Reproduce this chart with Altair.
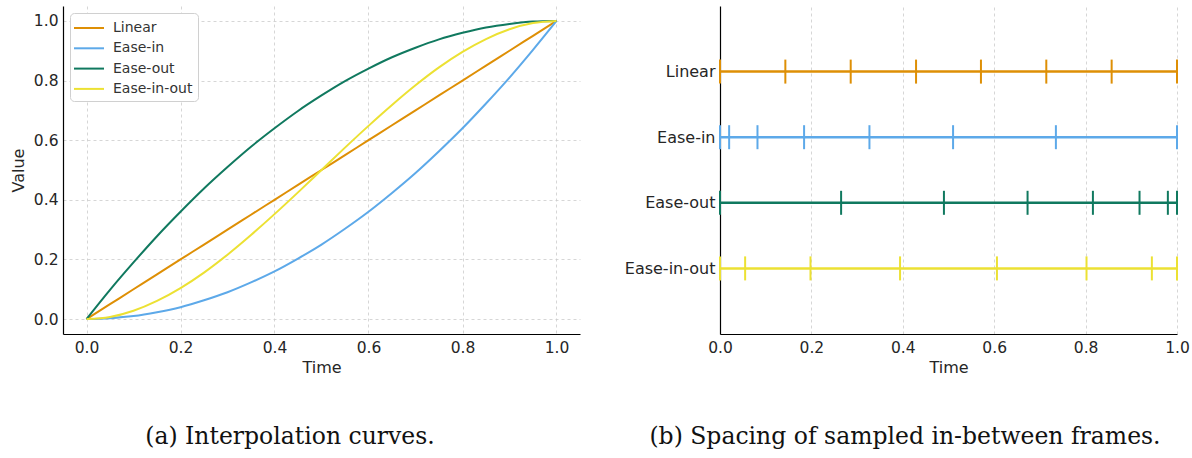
import altair as alt
import pandas as pd

# ---- data ----
T = [0.0, 0.05, 0.1, 0.15, 0.2, 0.25, 0.3, 0.35, 0.4, 0.45, 0.5,
     0.55, 0.6, 0.65, 0.7, 0.75, 0.8, 0.85, 0.9, 0.95, 1.0]
LINEAR = [0.0, 0.05, 0.1, 0.15, 0.2, 0.25, 0.3, 0.35, 0.4, 0.45, 0.5,
          0.55, 0.6, 0.65, 0.7, 0.75, 0.8, 0.85, 0.9, 0.95, 1.0]
EASE_IN = [0.0, 0.003, 0.01, 0.023, 0.04, 0.063, 0.09, 0.123, 0.16, 0.203, 0.25,
           0.303, 0.36, 0.423, 0.49, 0.563, 0.64, 0.723, 0.81, 0.903, 1.0]
EASE_OUT = [0.0, 0.098, 0.19, 0.278, 0.36, 0.438, 0.51, 0.578, 0.64, 0.698, 0.75,
            0.798, 0.84, 0.878, 0.91, 0.938, 0.96, 0.978, 0.99, 0.998, 1.0]
EASE_IN_OUT = [0.0, 0.007, 0.028, 0.061, 0.104, 0.156, 0.216, 0.282, 0.352, 0.425, 0.5,
               0.575, 0.648, 0.718, 0.784, 0.844, 0.896, 0.939, 0.972, 0.993, 1.0]

SERIES = ["Linear", "Ease-in", "Ease-out", "Ease-in-out"]
COLORS = ["#DE8F05", "#5DA9E9", "#10795F", "#ECE133"]

FRAMES_LINEAR = [0.0, 0.143, 0.286, 0.429, 0.571, 0.714, 0.857, 1.0]
FRAMES_EASE_IN = [0.0, 0.020, 0.082, 0.184, 0.327, 0.510, 0.735, 1.0]
FRAMES_EASE_OUT = [0.0, 0.265, 0.490, 0.673, 0.816, 0.918, 0.980, 1.0]
FRAMES_EASE_IN_OUT = [0.0, 0.055, 0.198, 0.394, 0.606, 0.802, 0.945, 1.0]

X_TICKS = [0.0, 0.2, 0.4, 0.6, 0.8, 1.0]
Y_TICKS = [0.0, 0.2, 0.4, 0.6, 0.8, 1.0]
CAPTIONS = ["(a) Interpolation curves.", "(b) Spacing of sampled in-between frames."]

# ---- tables ----
curve_rows = []
for name, vals in zip(SERIES, [LINEAR, EASE_IN, EASE_OUT, EASE_IN_OUT]):
    for t, v in zip(T, vals):
        curve_rows.append({"Time": t, "Value": v, "Series": name})
curves = pd.DataFrame(curve_rows)

frame_rows = []
for name, vals in zip(SERIES, [FRAMES_LINEAR, FRAMES_EASE_IN, FRAMES_EASE_OUT, FRAMES_EASE_IN_OUT]):
    for t in vals:
        frame_rows.append({"Time": t, "Series": name})
frames = pd.DataFrame(frame_rows)

color_scale = alt.Scale(domain=SERIES, range=COLORS)
SANS = "DejaVu Sans"
SERIF = "DejaVu Serif"

# ---- left panel ----
left_lines = alt.Chart(curves).mark_line(strokeWidth=2, interpolate="monotone").encode(
    x=alt.X("Time:Q",
            scale=alt.Scale(domain=[-0.05, 1.05], nice=False, zero=False),
            axis=alt.Axis(values=X_TICKS, format=".1f", title="Time", labelFlush=False)),
    y=alt.Y("Value:Q",
            scale=alt.Scale(domain=[-0.05, 1.05], nice=False, zero=False),
            axis=alt.Axis(values=Y_TICKS, format=".1f", title="Value", titlePadding=7)),
    color=alt.Color("Series:N", scale=color_scale,
                    legend=alt.Legend(title=None, orient="none", legendX=7, legendY=7,
                                      symbolType="M-1.667,0H1.667", symbolSize=324,
                                      symbolStrokeWidth=2, symbolOffset=4,
                                      labelFontSize=14, labelFont=SANS, labelColor="#333333",
                                      labelOffset=14, rowPadding=3.3, padding=5,
                                      fillColor="white", strokeColor="#d0d0d0", cornerRadius=4)),
    detail="Series:N",
)

cap_a = alt.Chart(pd.DataFrame({"text": [CAPTIONS[0]]})).mark_text(
    font=SERIF, fontSize=23.5, align="center", baseline="middle", color="#111111"
).encode(x=alt.value(227), y=alt.value(431), text="text:N")

left = alt.layer(left_lines, cap_a).properties(width=517, height=328)

# ---- right panel ----
row_scale = alt.Scale(type="point", domain=SERIES, padding=1)
x_right = alt.X("Time:Q", scale=alt.Scale(domain=[0, 1], nice=False, zero=False),
                axis=alt.Axis(values=X_TICKS, format=".1f", title="Time", labelFlush=False))
y_right = alt.Y("Series:N", scale=row_scale,
                axis=alt.Axis(title=None, ticks=False, grid=False, labelFontSize=16, labelPadding=5))

right_lines = alt.Chart(frames).mark_line(strokeWidth=2.5).encode(
    x=x_right, y=y_right,
    color=alt.Color("Series:N", scale=color_scale, legend=None),
    detail="Series:N",
)
right_ticks = alt.Chart(frames).mark_tick(size=24, thickness=2, opacity=1).encode(
    x="Time:Q", y=alt.Y("Series:N", scale=row_scale),
    color=alt.Color("Series:N", scale=color_scale, legend=None),
)
cap_b = alt.Chart(pd.DataFrame({"text": [CAPTIONS[1]]})).mark_text(
    font=SERIF, fontSize=23.5, align="center", baseline="middle", color="#111111"
).encode(x=alt.value(185), y=alt.value(431), text="text:N")

right = alt.layer(right_lines, right_ticks, cap_b).properties(width=457, height=328)

chart = alt.hconcat(left, right, spacing=44).resolve_scale(color="independent").properties(
    padding={"left": 10, "top": 6, "right": 0, "bottom": 0},
    background="white",
).configure_view(strokeWidth=0).configure_axis(
    labelFont=SANS, labelFontSize=15.5, labelColor="#262626", labelPadding=6,
    titleFont=SANS, titleFontSize=16, titleFontWeight="normal", titleColor="#262626",
    titlePadding=4,
    domainColor="black", domainWidth=1.2,
    ticks=False,
    grid=True, gridColor="#cccccc", gridDash=[3, 3], gridWidth=0.8,
).configure_axisY(labelPadding=5)

chart.save("out.html", embed_options={"renderer": "svg", "actions": False})
